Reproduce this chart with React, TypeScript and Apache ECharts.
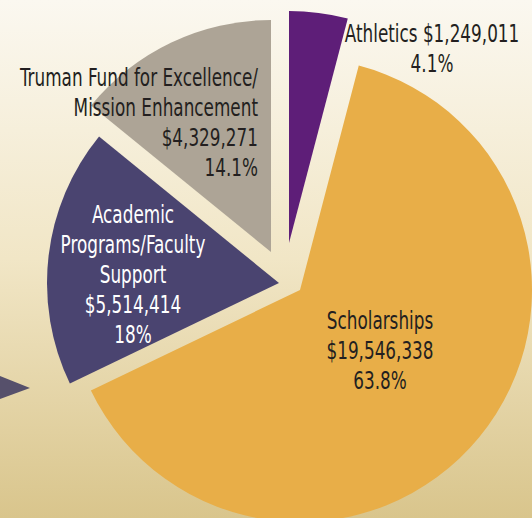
import React, { useEffect, useRef } from "react";
import * as echarts from "echarts";

// ---- data ----
const categories = [
  "Athletics",
  "Scholarships",
  "Academic\nPrograms/Faculty\nSupport",
  "Truman Fund for Excellence/\nMission Enhancement",
];
const amounts = [1249011, 19546338, 5514414, 4329271];

// ---- styles / layout (not data) ----
const sliceColors = ["#5e1e78", "#e8ae48", "#4a4470", "#ada496"];
const labelColors = ["#231f20", "#231f20", "#ffffff", "#231f20"];
const sliceCenters: [number, number][] = [
  [289, 243],
  [300, 290],
  [279, 283],
  [271, 252],
];
const labelAnchors = [
  { x: 432, y: 49, align: "center" },
  { x: 380, y: 351, align: "center" },
  { x: 133, y: 275, align: "center" },
  { x: 258, y: 123, align: "right" },
];
const FONT_FAMILY = '"DejaVu Sans Condensed", "DejaVu Sans", sans-serif';

function fmtMoney(v: number) {
  return "$" + v.toLocaleString("en-US");
}

export default function App() {
  const ref = useRef<HTMLDivElement>(null);
  useEffect(() => {
    if (!ref.current) return;
    const chart = echarts.init(ref.current, undefined, { renderer: "svg" });
    const total = amounts.reduce((a, b) => a + b, 0);
    const pct = (v: number) => Number(((v / total) * 100).toFixed(1)) + "%";

    const series = categories.map((_, i) => ({
      type: "pie",
      silent: true,
      center: sliceCenters[i],
      radius: 232,
      startAngle: 90,
      clockwise: true,
      label: { show: false },
      labelLine: { show: false },
      emphasis: { disabled: true },
      data: categories.map((name, j) => ({
        name,
        value: amounts[j],
        itemStyle: { color: j === i ? sliceColors[i] : "rgba(0,0,0,0)" },
      })),
    }));

    const labels = categories.map((name, i) => {
      const text =
        i === 0
          ? name + " " + fmtMoney(amounts[i]) + "\n" + pct(amounts[i])
          : name + "\n" + fmtMoney(amounts[i]) + "\n" + pct(amounts[i]);
      return {
        type: "text",
        silent: true,
        x: labelAnchors[i].x,
        y: labelAnchors[i].y,
        scaleX: 0.78,
        z: 10,
        style: {
          text,
          fill: labelColors[i],
          fontFamily: FONT_FAMILY,
          fontSize: 24,
          lineHeight: 30,
          align: labelAnchors[i].align,
          verticalAlign: "middle",
        },
      };
    });

    chart.setOption({
      animation: false,
      backgroundColor: new echarts.graphic.LinearGradient(0, 0, 0, 1, [
        { offset: 0, color: "#fbf8f0" },
        { offset: 0.5, color: "#f1e6c6" },
        { offset: 1, color: "#d9c58c" },
      ]),
      graphic: [
        {
          type: "polygon",
          silent: true,
          shape: { points: [[0, 376], [30, 388], [0, 399]] },
          style: { fill: "#56506b" },
        },
        ...labels,
      ],
      series,
    });
    return () => chart.dispose();
  }, []);
  return (
    <div style={{ position: "absolute", left: 0, top: 0 }}>
      <div ref={ref} style={{ width: 532, height: 518 }} />
    </div>
  );
}
